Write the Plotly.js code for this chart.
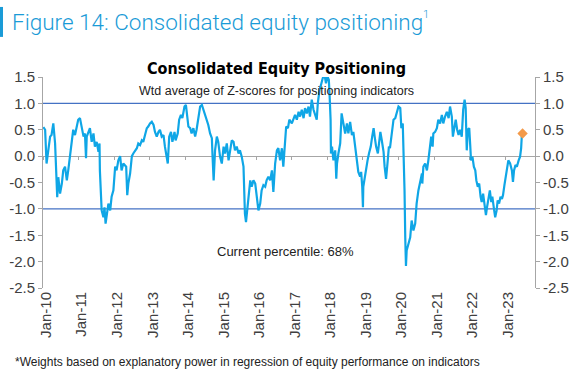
<!DOCTYPE html>
<html>
<head>
<meta charset="utf-8">
<script src="https://cdn.plot.ly/plotly-3.0.1.min.js"></script>
<style>
  html, body { margin: 0; padding: 0; background: #fff; }
  #chart { width: 581px; height: 380px; }
</style>
</head>
<body>
<div id="chart"></div>
<script>
// Time in decimal years
const years = [
  2010.01,2010.06,2010.10,2010.15,2010.20,2010.24,2010.29,2010.34,2010.38,2010.40,
  2010.43,2010.48,2010.53,2010.57,2010.62,2010.67,2010.71,2010.76,2010.81,2010.85,
  2010.90,2010.95,2010.99,2011.04,2011.09,2011.14,2011.18,2011.21,2011.23,2011.28,
  2011.32,2011.37,2011.42,2011.46,2011.51,2011.56,2011.59,2011.60,2011.63,2011.65,
  2011.70,2011.73,2011.76,2011.79,2011.84,2011.89,2011.93,2011.98,2012.03,2012.07,
  2012.12,2012.17,2012.21,2012.26,2012.34,2012.37,2012.40,2012.45,2012.50,2012.54,
  2012.59,2012.64,2012.68,2012.73,2012.78,2012.82,2012.87,2012.92,2012.96,2013.01,
  2013.06,2013.11,2013.15,2013.20,2013.25,2013.29,2013.34,2013.39,
  2013.43,2013.48,2013.51,2013.55,2013.60,2013.64,2013.70,2013.73,2013.79,2013.83,
  2013.88,2013.92,2013.98,2014.02,2014.05,2014.09,2014.14,2014.18,2014.23,2014.28,
  2014.32,2014.37,2014.42,2014.47,2014.51,2014.56,2014.61,2014.65,2014.70,2014.75,
  2014.77,2014.80,2014.84,2014.89,2014.93,2014.98,2015.03,2015.08,2015.12,2015.17,
  2015.22,2015.26,2015.31,2015.36,2015.40,2015.45,2015.50,2015.54,2015.59,2015.64,
  2015.67,2015.68,2015.71,2015.74,2015.78,2015.83,2015.87,2015.92,2015.97,2016.01,
  2016.06,2016.11,2016.15,2016.20,2016.25,2016.29,2016.34,2016.39,2016.44,2016.48,
  2016.53,2016.58,2016.62,2016.67,2016.72,2016.76,2016.81,2016.84,2016.89,2016.93,
  2017.00,2017.04,2017.09,2017.14,2017.19,2017.23,2017.28,2017.33,2017.37,2017.42,
  2017.47,2017.51,2017.56,2017.61,2017.65,2017.70,2017.73,2017.78,2017.82,2017.87,
  2017.92,2017.96,2018.00,2018.04,2018.06,2018.09,2018.10,2018.13,2018.17,2018.22,
  2018.25,2018.27,2018.31,2018.36,2018.40,2018.45,2018.50,2018.55,2018.59,2018.64,
  2018.69,2018.73,2018.78,2018.83,2018.87,2018.92,2018.95,2018.98,2019.00,2019.01,
  2019.05,2019.09,2019.13,2019.17,2019.22,2019.26,2019.30,2019.33,2019.37,2019.42,
  2019.46,2019.49,2019.53,2019.58,2019.61,2019.65,2019.69,2019.73,2019.76,2019.81,
  2019.86,2019.91,2019.95,2020.00,2020.05,2020.08,2020.12,2020.15,2020.17,2020.19,
  2020.21,2020.23,2020.28,2020.33,2020.37,2020.42,
  2020.47,2020.51,2020.56,2020.61,2020.66,2020.67,2020.70,2020.75,2020.80,2020.84,
  2020.89,2020.92,2020.96,2020.98,2021.03,2021.08,2021.12,2021.17,2021.22,2021.26,
  2021.31,2021.36,2021.41,2021.45,2021.50,2021.53,2021.57,2021.61,2021.65,2021.69,
  2021.73,2021.78,2021.82,2021.86,2021.89,2021.92,2021.95,2021.99,2022.02,2022.04,
  2022.08,2022.12,2022.16,2022.19,2022.23,2022.27,2022.31,2022.34,2022.38,2022.42,
  2022.46,2022.49,2022.53,2022.57,2022.61,2022.64,2022.68,2022.72,2022.76,2022.79,
  2022.83,2022.87,2022.91,2022.94,2022.98,2023.02,2023.06,2023.09,2023.14,2023.19,
  2023.22,2023.25,2023.29,2023.33,2023.38,2023.42,2023.45,2023.47
];
// Weighted average of Z-scores for positioning indicators
const zscore = [
  0.55,0.50,-0.14,0.18,0.37,0.40,0.62,0.24,-0.50,-0.78,
  -0.40,-0.71,-0.52,-0.27,-0.20,-0.46,-0.27,0.05,0.27,0.50,
  0.40,0.59,0.69,0.72,0.53,0.37,0.43,-0.04,0.37,0.46,
  0.53,0.27,0.43,0.18,0.27,0.08,0.24,-0.27,-0.78,-1.03,
  -1.16,-0.97,-1.28,-1.09,-0.90,-1.03,-0.77,-0.65,-0.20,-0.27,
  -0.08,0.00,-0.27,-0.14,-0.20,-0.74,-0.52,-0.33,0.00,0.05,
  0.11,0.15,0.24,0.21,0.30,0.27,0.40,0.53,0.56,0.62,
  0.65,0.59,0.46,0.37,0.46,0.50,0.37,0.40,
  0.18,-0.08,-0.14,0.37,0.46,0.27,0.46,0.30,0.43,0.69,
  0.78,0.72,0.94,0.97,0.81,0.56,0.53,0.43,0.53,0.37,
  0.50,0.69,0.94,0.97,0.88,0.78,0.69,0.59,0.43,0.34,
  -0.01,-0.46,0.11,0.37,0.27,-0.01,-0.14,0.18,0.05,0.24,
  -0.08,0.11,0.30,0.27,0.11,0.18,0.05,0.11,-0.01,-0.20,
  -0.77,-1.09,-1.25,-1.03,-0.77,-0.46,-0.58,-0.46,-0.52,-0.71,
  -1.03,-0.90,-0.65,-0.55,-0.58,-0.46,-0.39,-0.46,-0.27,-0.68,
  -0.14,0.11,0.15,-0.08,0.15,-0.20,0.18,0.56,0.53,0.69,
  0.62,0.69,0.78,0.69,0.84,0.75,0.88,0.72,0.91,0.81,
  0.94,0.75,1.07,0.88,0.78,0.69,1.00,1.26,1.35,1.48,
  1.54,1.38,1.51,1.45,1.19,0.69,0.05,0.18,-0.08,0.11,
  -0.43,-0.14,0.05,0.24,0.81,0.59,0.43,0.62,0.43,0.65,
  0.40,0.46,0.18,-0.14,-0.30,-0.39,-0.30,-0.58,-0.97,-0.58,
  -0.39,-0.17,-0.08,0.05,0.18,0.37,0.53,0.37,0.18,0.05,
  0.37,0.46,0.30,0.08,-0.20,-0.43,-0.14,0.18,0.15,0.46,
  0.69,0.72,0.84,0.94,0.91,0.53,0.62,0.05,-0.65,-1.54,
  -2.08,-1.79,-1.67,-1.54,-1.22,-1.41,
  -1.28,-0.90,-0.65,-0.46,-0.33,-0.52,-0.20,-0.14,-0.27,-0.08,
  0.18,0.37,0.18,0.43,0.46,0.53,0.69,0.62,0.78,0.62,
  0.75,0.84,0.72,0.94,0.75,0.37,0.53,0.69,0.50,0.40,
  0.50,0.37,0.88,1.07,0.91,0.11,0.50,0.53,0.18,-0.08,
  -0.01,-0.20,-0.27,-0.46,-0.58,-0.52,-0.77,-0.87,-0.71,-0.90,
  -1.12,-0.97,-0.77,-0.65,-0.87,-0.77,-0.97,-1.16,-1.03,-0.84,
  -0.90,-0.77,-0.81,-0.74,-0.55,-0.39,-0.27,-0.08,-0.14,-0.27,
  -0.49,-0.27,-0.17,-0.20,-0.08,-0.01,0.15,0.40
];
// Latest reading (orange marker)
const currentYear = [2023.49];
const currentValue = [0.43];

// Axis ticks
const xTickVals = [2010,2011,2012,2013,2014,2015,2016,2017,2018,2019,2020,2021,2022,2023];
const xTickText = ['Jan-10','Jan-11','Jan-12','Jan-13','Jan-14','Jan-15','Jan-16','Jan-17','Jan-18','Jan-19','Jan-20','Jan-21','Jan-22','Jan-23'];
const yTickVals = [1.5,1.0,0.5,0.0,-0.5,-1.0,-1.5,-2.0,-2.5];
const yTickText = ['1.5','1.0','0.5','0.0','-0.5','-1.0','-1.5','-2.0','-2.5'];
const bands = [1.0, -1.0];

const xRange = [2010, 2023.84];
const yRange = [-2.5, 1.5];
const baseFont = 'Liberation Sans, Arial, sans-serif';
const axisGray = '#A6A6A6';
const tickFont = {family: baseFont, size: 15, color: '#404040'};
const figBlue = '#1A9BD7';

const traces = [
  {
    type: 'scatter', mode: 'lines',
    x: years, y: zscore,
    xaxis: 'x', yaxis: 'y',
    line: {color: '#0FA6E6', width: 2.2},
    hoverinfo: 'skip', showlegend: false
  },
  {
    type: 'scatter', mode: 'markers',
    x: currentYear, y: currentValue,
    xaxis: 'x2', yaxis: 'y2',
    marker: {symbol: 'diamond', size: 8, color: '#F39A4A'},
    hoverinfo: 'skip', showlegend: false
  }
];

const shapes = bands.map(v => ({
  type: 'line', xref: 'paper', yref: 'y', x0: 0, x1: 1, y0: v, y1: v,
  line: {color: '#4472C4', width: 1.3}, layer: 'below'
}));
shapes.push({
  type: 'rect', xref: 'paper', yref: 'paper',
  x0: -0.0874, x1: -0.0813, y0: 1.19, y1: 1.332,
  fillcolor: figBlue, line: {width: 0}
});

const layout = {
  width: 581, height: 380,
  margin: {l: 43, r: 46, t: 77, b: 92, pad: 0},
  paper_bgcolor: '#ffffff', plot_bgcolor: '#ffffff',
  font: {family: baseFont, color: '#333'},
  showlegend: false,
  xaxis: {
    type: 'linear', range: xRange, anchor: 'free', position: 0.625,
    showline: true, linecolor: axisGray, linewidth: 1,
    ticks: 'outside', ticklen: 3, tickcolor: axisGray, tickwidth: 1,
    tickmode: 'array', tickvals: xTickVals, showticklabels: false,
    showgrid: false, zeroline: false, layer: 'below traces', fixedrange: true
  },
  xaxis2: {
    type: 'linear', range: xRange, overlaying: 'x', anchor: 'y', side: 'bottom',
    showline: false, ticks: '', tickmode: 'array',
    tickvals: xTickVals, ticktext: xTickText, tickangle: -90, ticklabelshift: 3,
    tickfont: {family: baseFont, size: 15, color: '#404040'},
    showgrid: false, zeroline: false, fixedrange: true
  },
  yaxis: {
    range: yRange, anchor: 'x2', side: 'left',
    showline: true, linecolor: axisGray, linewidth: 1,
    ticks: 'outside', ticklen: 4, tickcolor: axisGray,
    tickmode: 'array', tickvals: yTickVals, ticktext: yTickText,
    tickfont: tickFont, showgrid: false, zeroline: false, fixedrange: true
  },
  yaxis2: {
    range: yRange, overlaying: 'y', anchor: 'x2', side: 'right',
    showline: true, linecolor: axisGray, linewidth: 1,
    ticks: 'outside', ticklen: 4, tickcolor: axisGray,
    tickmode: 'array', tickvals: yTickVals, ticktext: yTickText,
    tickfont: tickFont, showgrid: false, zeroline: false, fixedrange: true
  },
  shapes: shapes,
  annotations: [
    {
      xref: 'paper', yref: 'paper', x: -0.067, y: 1.261, xanchor: 'left', yanchor: 'middle',
      text: 'Figure 14: Consolidated equity positioning', showarrow: false,
      font: {family: 'Roboto, ' + baseFont, size: 22.5, color: figBlue, weight: 300}
    },
    {
      xref: 'paper', yref: 'paper', x: 0.768, y: 1.295, xanchor: 'left', yanchor: 'middle',
      text: '1', showarrow: false,
      font: {family: 'Roboto, ' + baseFont, size: 11, color: figBlue, weight: 300}
    },
    {
      xref: 'paper', yref: 'paper', x: 0.4736, y: 1.038, xanchor: 'center', yanchor: 'middle',
      text: '<b>Consolidated Equity Positioning</b>', showarrow: false,
      font: {family: 'Liberation Sans Narrow, DejaVu Sans Condensed, ' + baseFont, size: 16, color: '#000'}
    },
    {
      xref: 'paper', yref: 'paper', x: 0.4736, y: 0.934, xanchor: 'center', yanchor: 'middle',
      text: 'Wtd average of Z-scores for positioning indicators', showarrow: false,
      font: {family: baseFont, size: 12.5, color: '#222'}
    },
    {
      xref: 'paper', yref: 'paper', x: 0.492, y: 0.171, xanchor: 'center', yanchor: 'middle',
      text: 'Current percentile: 68%', showarrow: false,
      font: {family: baseFont, size: 13, color: '#222'}
    },
    {
      xref: 'paper', yref: 'paper', x: -0.061, y: -0.351, xanchor: 'left', yanchor: 'middle',
      text: '*Weights based on explanatory power in regression of equity performance on indicators', showarrow: false,
      font: {family: baseFont, size: 12, color: '#222'}
    }
  ]
};

Plotly.newPlot('chart', traces, layout, {staticPlot: true, displayModeBar: false});
</script>
</body>
</html>
